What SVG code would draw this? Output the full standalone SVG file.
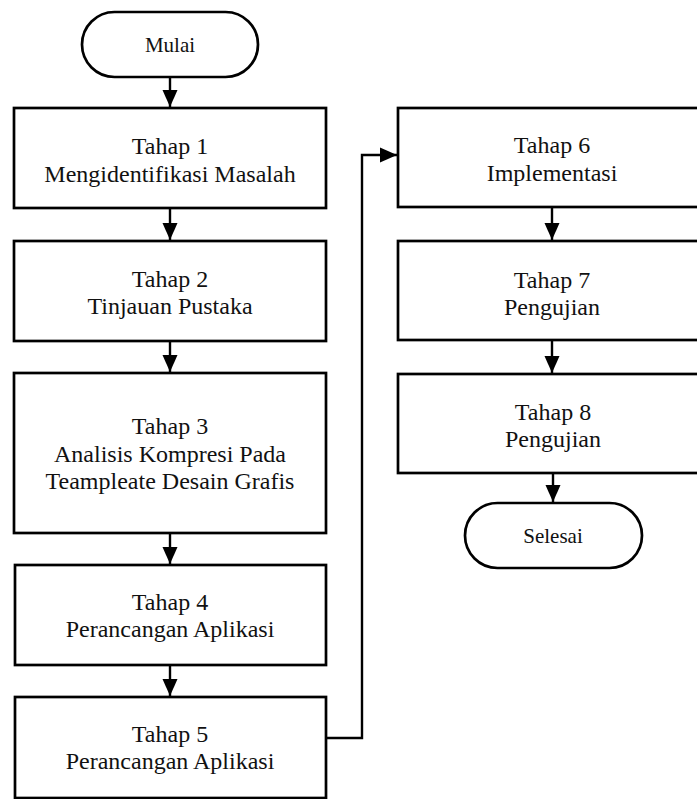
<svg xmlns="http://www.w3.org/2000/svg" width="697" height="799" viewBox="0 0 697 799">
<defs>
<style>
.box{fill:#fff;stroke:#000;stroke-width:2.7}
.t{font-family:"Liberation Serif","Times New Roman",serif;font-size:24px;fill:#111;text-anchor:middle}
.ts{font-family:"Liberation Serif","Times New Roman",serif;font-size:21px;fill:#111;text-anchor:middle}
.c{fill:none;stroke:#000;stroke-width:2.4}
</style>
<marker id="ah" markerUnits="userSpaceOnUse" markerWidth="17" markerHeight="16" viewBox="0 0 17 15" refX="17" refY="7.5" orient="auto">
<path d="M0,0 L17,7.5 L0,15 Z" fill="#000"/>
</marker>
</defs>
<rect width="697" height="799" fill="#fff"/>
<g id="connectors">
<line class="c" x1="170" y1="77" x2="170" y2="107" marker-end="url(#ah)"/>
<line class="c" x1="170" y1="208" x2="170" y2="240" marker-end="url(#ah)"/>
<line class="c" x1="170" y1="341" x2="170" y2="372" marker-end="url(#ah)"/>
<line class="c" x1="170" y1="533" x2="170" y2="564" marker-end="url(#ah)"/>
<line class="c" x1="170" y1="665" x2="170" y2="696" marker-end="url(#ah)"/>
<polyline class="c" points="326,738 362,738 362,155 397,155" marker-end="url(#ah)"/>
<line class="c" x1="552" y1="207" x2="552" y2="240" marker-end="url(#ah)"/>
<line class="c" x1="552" y1="340" x2="552" y2="373" marker-end="url(#ah)"/>
<line class="c" x1="553" y1="473" x2="553" y2="502" marker-end="url(#ah)"/>
</g>
<g id="mulai">
<rect class="box" x="82" y="12" width="176" height="65" rx="32.5" ry="32.5"/>
<text class="ts" x="170" y="52">Mulai</text>
</g>
<g id="tahap1">
<rect class="box" x="14" y="108" width="312" height="100"/>
<text class="t" x="170" y="154">Tahap 1</text>
<text class="t" x="170" y="182">Mengidentifikasi Masalah</text>
</g>
<g id="tahap2">
<rect class="box" x="14" y="241" width="312" height="100"/>
<text class="t" x="170" y="287">Tahap 2</text>
<text class="t" x="170" y="314">Tinjauan Pustaka</text>
</g>
<g id="tahap3">
<rect class="box" x="14" y="373" width="312" height="160"/>
<text class="t" x="170" y="434">Tahap 3</text>
<text class="t" x="170" y="462">Analisis Kompresi Pada</text>
<text class="t" x="170" y="489">Teampleate Desain Grafis</text>
</g>
<g id="tahap4">
<rect class="box" x="15" y="565" width="311" height="100"/>
<text class="t" x="170" y="610">Tahap 4</text>
<text class="t" x="170" y="637">Perancangan Aplikasi</text>
</g>
<g id="tahap5">
<rect class="box" x="15" y="697" width="311" height="101"/>
<text class="t" x="170" y="742">Tahap 5</text>
<text class="t" x="170" y="769">Perancangan Aplikasi</text>
</g>
<g id="tahap6">
<rect class="box" x="398" y="108" width="310" height="99"/>
<text class="t" x="552" y="153">Tahap 6</text>
<text class="t" x="552" y="181">Implementasi</text>
</g>
<g id="tahap7">
<rect class="box" x="398" y="241" width="310" height="99"/>
<text class="t" x="552" y="288">Tahap 7</text>
<text class="t" x="552" y="315">Pengujian</text>
</g>
<g id="tahap8">
<rect class="box" x="398" y="374" width="310" height="99"/>
<text class="t" x="553" y="420">Tahap 8</text>
<text class="t" x="553" y="447">Pengujian</text>
</g>
<g id="selesai">
<rect class="box" x="465" y="503" width="177" height="65" rx="32.5" ry="32.5"/>
<text class="ts" x="553" y="543">Selesai</text>
</g>
</svg>
